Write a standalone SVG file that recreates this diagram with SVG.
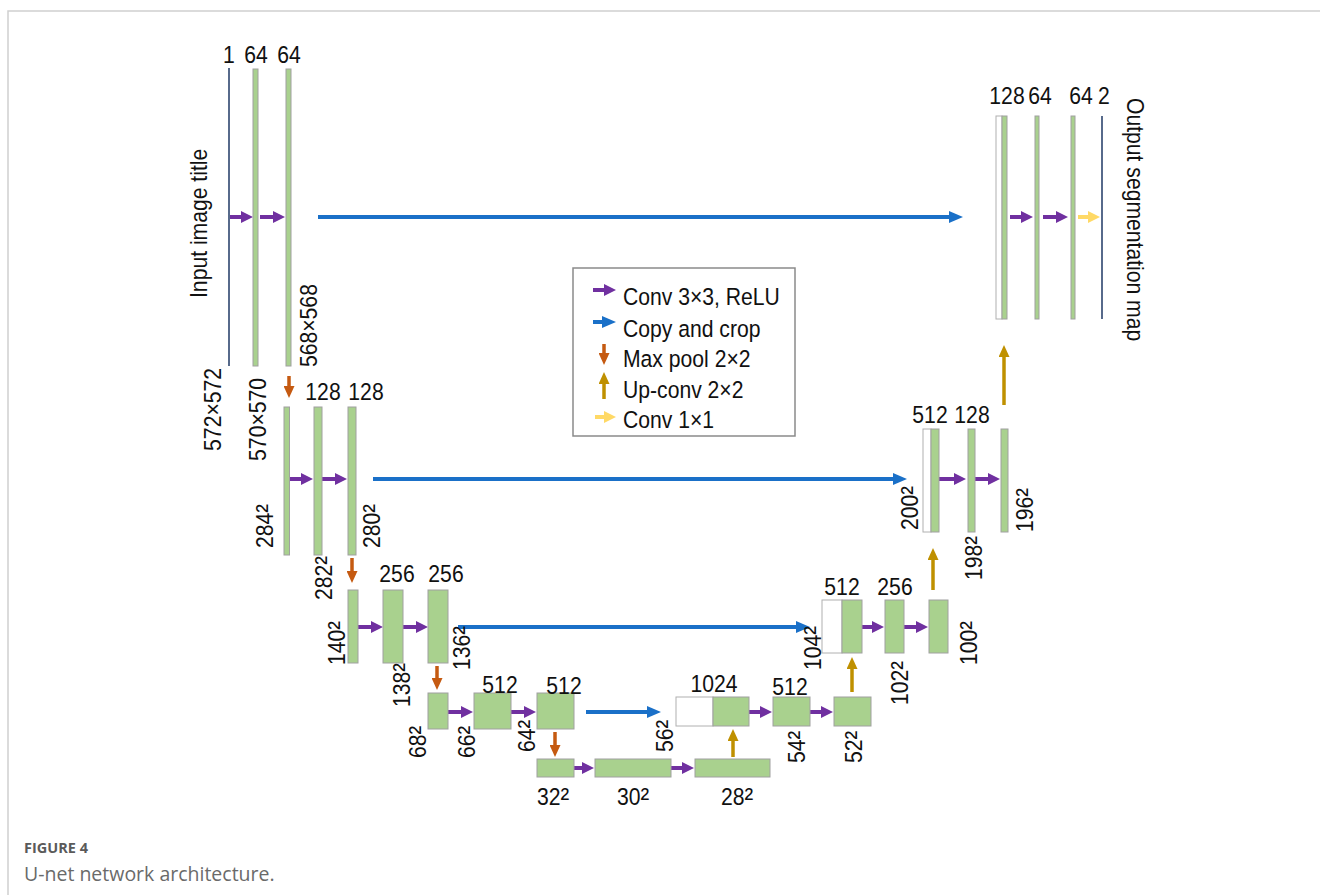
<svg xmlns="http://www.w3.org/2000/svg" width="1320" height="895" viewBox="0 0 1320 895">
<defs>
<style>
.t{font-family:"Liberation Sans",Arial,sans-serif;font-size:23.5px;fill:#111}
.s{font-size:29px}
.m{text-anchor:middle}
.e{text-anchor:end}
.bar{fill:#a9d18e;stroke:#a0a0a0;stroke-width:1}
.wh{fill:#fff;stroke:#b0b0b0;stroke-width:1}
.ln{stroke:#1f3864;stroke-width:1.5}
.p{stroke:#7030a0;stroke-width:4;marker-end:url(#hP)}
.b{stroke:#1a70c8;stroke-width:4;marker-end:url(#hB)}
.r{stroke:#c55a11;stroke-width:3.5;marker-end:url(#hR)}
.g{stroke:#bf9000;stroke-width:3.5;marker-end:url(#hG)}
.y{stroke:#ffd966;stroke-width:4;marker-end:url(#hY)}
.cap1{font-family:"Open Sans","Liberation Sans",sans-serif;font-size:14.5px;font-weight:bold;fill:#5a5a5a}
.cap2{font-family:"Open Sans","Liberation Sans",sans-serif;font-size:19.5px;fill:#6a6a6a}
</style>
<marker id="hP" markerUnits="userSpaceOnUse" markerWidth="12" markerHeight="12" refX="4" refY="6" orient="auto"><path d="M0,0L12,6L0,12z" fill="#7030a0"/></marker>
<marker id="hB" markerUnits="userSpaceOnUse" markerWidth="14" markerHeight="12" refX="4" refY="6" orient="auto"><path d="M0,0L14,6L0,12z" fill="#1a70c8"/></marker>
<marker id="hR" markerUnits="userSpaceOnUse" markerWidth="12" markerHeight="11" refX="4" refY="5.5" orient="auto"><path d="M0,0L12,5.5L0,11z" fill="#c55a11"/></marker>
<marker id="hG" markerUnits="userSpaceOnUse" markerWidth="12" markerHeight="11" refX="4" refY="5.5" orient="auto"><path d="M0,0L12,5.5L0,11z" fill="#bf9000"/></marker>
<marker id="hY" markerUnits="userSpaceOnUse" markerWidth="12" markerHeight="12" refX="4" refY="6" orient="auto"><path d="M0,0L12,6L0,12z" fill="#ffd966"/></marker>
</defs>
<rect width="1320" height="895" fill="#fff"/>
<path d="M8,895V11H1320" fill="none" stroke="#d0d0d0" stroke-width="1.5"/>

<g id="connectors">
<line class="p" x1="230" y1="217" x2="245" y2="217"/>
<line class="p" x1="260" y1="217" x2="277" y2="217"/>
<line class="b" x1="318" y1="217" x2="953" y2="217"/>
<line class="p" x1="1010" y1="217" x2="1025" y2="217"/>
<line class="p" x1="1043" y1="217" x2="1060" y2="217"/>
<line class="y" x1="1078" y1="217" x2="1092" y2="217"/>
<line class="r" x1="289" y1="376" x2="289" y2="390"/>
<line class="p" x1="290" y1="479" x2="305" y2="479"/>
<line class="p" x1="322" y1="479" x2="339" y2="479"/>
<line class="b" x1="373" y1="479" x2="897" y2="479"/>
<line class="p" x1="939" y1="479" x2="958" y2="479"/>
<line class="p" x1="975" y1="479" x2="992" y2="479"/>
<line class="g" x1="1004" y1="405" x2="1004" y2="353"/>
<line class="r" x1="352" y1="558" x2="352" y2="575"/>
<line class="p" x1="358" y1="627" x2="375" y2="627"/>
<line class="p" x1="403" y1="627" x2="420" y2="627"/>
<line class="b" x1="458" y1="627" x2="800" y2="627"/>
<line class="p" x1="862" y1="627" x2="876" y2="627"/>
<line class="p" x1="904" y1="627" x2="920" y2="627"/>
<line class="g" x1="933" y1="590" x2="933" y2="556"/>
<line class="r" x1="437" y1="666" x2="437" y2="682"/>
<line class="p" x1="448" y1="712" x2="465" y2="712"/>
<line class="p" x1="511" y1="712" x2="528" y2="712"/>
<line class="b" x1="586" y1="712" x2="651" y2="712"/>
<line class="p" x1="749" y1="712" x2="764" y2="712"/>
<line class="p" x1="810" y1="712" x2="825" y2="712"/>
<line class="g" x1="852" y1="692" x2="852" y2="665"/>
<line class="r" x1="555" y1="732" x2="555" y2="749"/>
<line class="p" x1="574" y1="768" x2="586" y2="768"/>
<line class="p" x1="671" y1="768" x2="686" y2="768"/>
<line class="g" x1="733" y1="757" x2="733" y2="737"/>
</g>

<g id="input">
<line class="ln" x1="229" y1="68" x2="229" y2="366"/>
<text class="t" transform="translate(207,298) rotate(-90) scale(.9,1)">Input image title</text>
<text class="t m" transform="translate(229,63) scale(.9,1)">1</text>
<text class="t e" transform="translate(221,368) rotate(-90) scale(.9,1)">572×572</text>
</g>
<g id="l1a"><rect class="bar" x="253" y="69" width="5" height="297"/><text class="t m" transform="translate(256,63) scale(.9,1)">64</text><text class="t e" transform="translate(266,378) rotate(-90) scale(.9,1)">570×570</text></g>
<g id="l1b"><rect class="bar" x="286" y="69" width="5" height="297"/><text class="t m" transform="translate(289,63) scale(.9,1)">64</text><text class="t" transform="translate(317,367) rotate(-90) scale(.9,1)">568×568</text></g>

<g id="l2a"><rect class="bar" x="284" y="407" width="5.5" height="148"/><text class="t" transform="translate(273,548) rotate(-90) scale(.9,1)">284<tspan class="s" dy="3">²</tspan></text></g>
<g id="l2b"><rect class="bar" x="314" y="407" width="8" height="148"/><text class="t m" transform="translate(323,400) scale(.9,1)">128</text><text class="t" transform="translate(332,600) rotate(-90) scale(.9,1)">282<tspan class="s" dy="3">²</tspan></text></g>
<g id="l2c"><rect class="bar" x="348" y="407" width="8" height="148"/><text class="t m" transform="translate(366,400) scale(.9,1)">128</text><text class="t" transform="translate(380,548) rotate(-90) scale(.9,1)">280<tspan class="s" dy="3">²</tspan></text></g>

<g id="l3a"><rect class="bar" x="348" y="590" width="10" height="73"/><text class="t" transform="translate(345,665) rotate(-90) scale(.9,1)">140<tspan class="s" dy="3">²</tspan></text></g>
<g id="l3b"><rect class="bar" x="383" y="590" width="20" height="73"/><text class="t m" transform="translate(397,582) scale(.9,1)">256</text><text class="t" transform="translate(410,707) rotate(-90) scale(.9,1)">138<tspan class="s" dy="3">²</tspan></text></g>
<g id="l3c"><rect class="bar" x="428" y="590" width="20" height="73"/><text class="t m" transform="translate(446,582) scale(.9,1)">256</text><text class="t" transform="translate(470,670) rotate(-90) scale(.9,1)">136<tspan class="s" dy="3">²</tspan></text></g>

<g id="l4a"><rect class="bar" x="428" y="693" width="20" height="36"/><text class="t" transform="translate(426,758) rotate(-90) scale(.9,1)">68<tspan class="s" dy="3">²</tspan></text></g>
<g id="l4b"><rect class="bar" x="474" y="693" width="37" height="36"/><text class="t m" transform="translate(500,693) scale(.9,1)">512</text><text class="t" transform="translate(475,758) rotate(-90) scale(.9,1)">66<tspan class="s" dy="3">²</tspan></text></g>
<g id="l4c"><rect class="bar" x="537" y="693" width="37" height="36"/><text class="t m" transform="translate(564,694) scale(.9,1)">512</text><text class="t" transform="translate(535,752) rotate(-90) scale(.9,1)">64<tspan class="s" dy="3">²</tspan></text></g>

<g id="l5a"><rect class="bar" x="537" y="759" width="37" height="18"/><text class="t m" transform="translate(553,805) scale(.9,1)">32<tspan class="s" dy="3">²</tspan></text></g>
<g id="l5b"><rect class="bar" x="595" y="759" width="76" height="18"/><text class="t m" transform="translate(633,805) scale(.9,1)">30<tspan class="s" dy="3">²</tspan></text></g>
<g id="l5c"><rect class="bar" x="695" y="759" width="75" height="18"/><text class="t m" transform="translate(737,805) scale(.9,1)">28<tspan class="s" dy="3">²</tspan></text></g>

<g id="r4a"><rect class="wh" x="676" y="697" width="37" height="29"/><rect class="bar" x="713" y="697" width="36" height="29"/><text class="t m" transform="translate(714,692) scale(.9,1)">1024</text><text class="t" transform="translate(673,752) rotate(-90) scale(.9,1)">56<tspan class="s" dy="3">²</tspan></text></g>
<g id="r4b"><rect class="bar" x="773" y="697" width="37" height="29"/><text class="t m" transform="translate(790,695) scale(.9,1)">512</text><text class="t" transform="translate(805,763) rotate(-90) scale(.9,1)">54<tspan class="s" dy="3">²</tspan></text></g>
<g id="r4c"><rect class="bar" x="834" y="697" width="37" height="29"/><text class="t" transform="translate(862,763) rotate(-90) scale(.9,1)">52<tspan class="s" dy="3">²</tspan></text></g>

<g id="r3a"><rect class="wh" x="822" y="600" width="20" height="53"/><rect class="bar" x="842" y="600" width="20" height="53"/><text class="t m" transform="translate(842,595) scale(.9,1)">512</text><text class="t" transform="translate(821,670) rotate(-90) scale(.9,1)">104<tspan class="s" dy="3">²</tspan></text></g>
<g id="r3b"><rect class="bar" x="885" y="600" width="19" height="53"/><text class="t m" transform="translate(895,595) scale(.9,1)">256</text><text class="t" transform="translate(908,705) rotate(-90) scale(.9,1)">102<tspan class="s" dy="3">²</tspan></text></g>
<g id="r3c"><rect class="bar" x="929" y="600" width="19" height="53"/><text class="t" transform="translate(977,665) rotate(-90) scale(.9,1)">100<tspan class="s" dy="3">²</tspan></text></g>

<g id="r2a"><rect class="wh" x="923" y="429" width="8" height="103"/><rect class="bar" x="931" y="429" width="8" height="103"/><text class="t m" transform="translate(930,423) scale(.9,1)">512</text><text class="t" transform="translate(918,530) rotate(-90) scale(.9,1)">200<tspan class="s" dy="3">²</tspan></text></g>
<g id="r2b"><rect class="bar" x="968" y="429" width="7" height="103"/><text class="t m" transform="translate(972,423) scale(.9,1)">128</text><text class="t" transform="translate(982,580) rotate(-90) scale(.9,1)">198<tspan class="s" dy="3">²</tspan></text></g>
<g id="r2c"><rect class="bar" x="1001" y="429" width="7" height="103"/><text class="t" transform="translate(1033,532) rotate(-90) scale(.9,1)">196<tspan class="s" dy="3">²</tspan></text></g>

<g id="r1a"><rect class="wh" x="996" y="116" width="6" height="203"/><rect class="bar" x="1002" y="116" width="5" height="203"/><text class="t m" transform="translate(1007,104) scale(.9,1)">128</text></g>
<g id="r1b"><rect class="bar" x="1035" y="116" width="4" height="203"/><text class="t m" transform="translate(1040,104) scale(.9,1)">64</text></g>
<g id="r1c"><rect class="bar" x="1071" y="116" width="4" height="203"/><text class="t m" transform="translate(1081,104) scale(.9,1)">64</text></g>
<g id="output"><line class="ln" x1="1102" y1="116" x2="1102" y2="319"/><text class="t m" transform="translate(1104,104) scale(.9,1)">2</text><text class="t" transform="translate(1127,98) rotate(90) scale(.9,1)">Output segmentation map</text></g>

<g id="legend">
<rect x="573" y="268" width="222" height="168" fill="#fff" stroke="#8a8a8a" stroke-width="1.5"/>
<line class="p" x1="593" y1="290" x2="608" y2="290"/>
<line class="b" x1="593" y1="322" x2="606" y2="322"/>
<line class="r" x1="604" y1="344" x2="604" y2="357"/>
<line class="g" x1="604" y1="399" x2="604" y2="380"/>
<line class="y" x1="595" y1="417" x2="608" y2="417"/>
<text class="t" transform="translate(623,305) scale(.9,1)">Conv 3×3, ReLU</text>
<text class="t" transform="translate(623,337) scale(.9,1)">Copy and crop</text>
<text class="t" transform="translate(623,367) scale(.9,1)">Max pool 2×2</text>
<text class="t" transform="translate(623,398) scale(.9,1)">Up-conv 2×2</text>
<text class="t" transform="translate(623,428) scale(.9,1)">Conv 1×1</text>
</g>

<text class="cap1" x="24" y="853">FIGURE 4</text>
<text class="cap2" x="24" y="881">U-net network architecture.</text>
</svg>
